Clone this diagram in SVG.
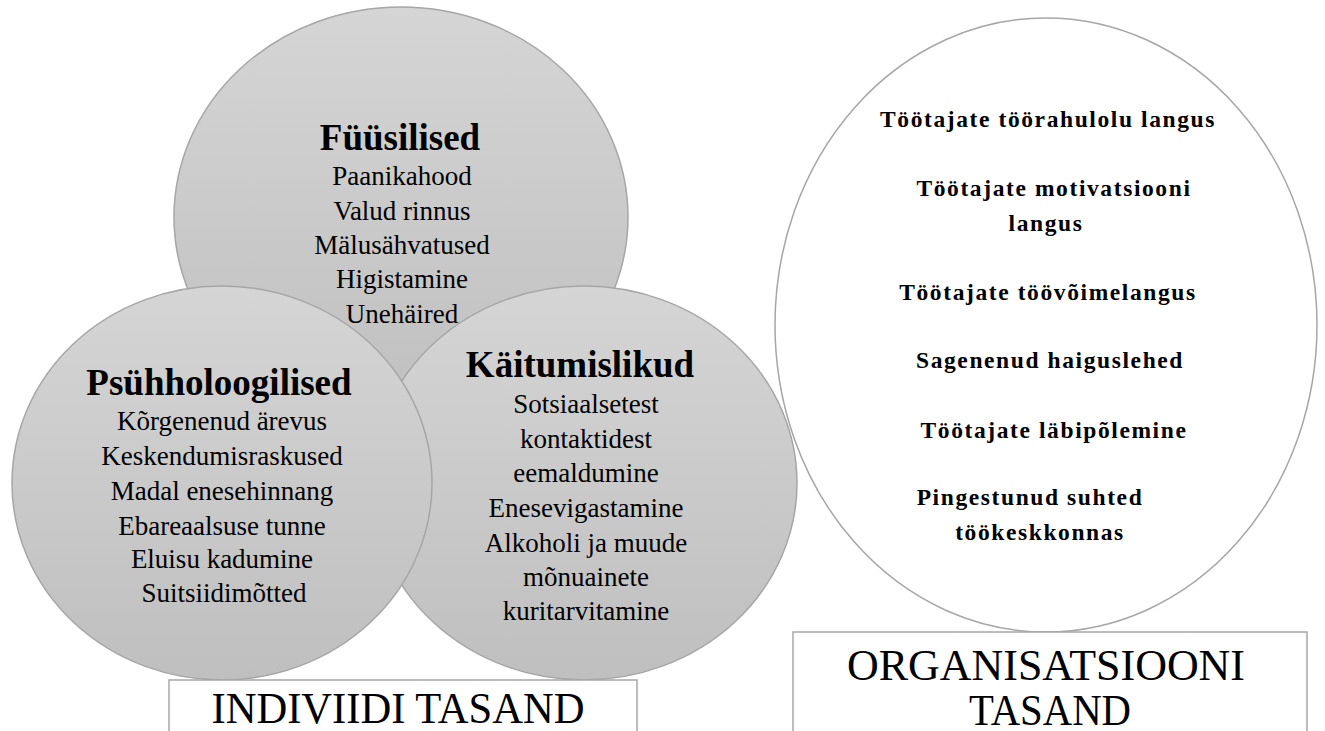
<svg xmlns="http://www.w3.org/2000/svg" width="1325" height="731" viewBox="0 0 1325 731">
<defs>
<linearGradient id="g" x1="0" y1="0" x2="0" y2="1">
<stop offset="0" stop-color="#d5d5d5"/>
<stop offset="1" stop-color="#bfbfbf"/>
</linearGradient>
<style>
.c{fill:url(#g);stroke:#a6a6a6;stroke-width:1.5}
.o{fill:#ffffff;stroke:#a6a6a6;stroke-width:1.5}
.b{fill:#ffffff;stroke:#a6a6a6;stroke-width:1.5}
text{font-family:'Liberation Serif','Times New Roman',serif;fill:#000;text-anchor:middle}
.h{font-size:37px;font-weight:bold}
.i{font-size:27px}
.r{font-size:23.5px;font-weight:bold;letter-spacing:1.6px}
.l{font-size:44px}
</style>
</defs>
<rect width="1325" height="731" fill="#ffffff"/>
<g id="connectors"/>
<g id="node-fyysilised">
<ellipse class="c" cx="401" cy="217" rx="227" ry="210"/>
<text class="h" x="400" y="150">Füüsilised</text>
<text class="i" x="402" y="185">Paanikahood</text>
<text class="i" x="402" y="220">Valud rinnus</text>
<text class="i" x="402" y="254">Mälusähvatused</text>
<text class="i" x="402" y="288">Higistamine</text>
<text class="i" x="402" y="323">Unehäired</text>
</g>
<g id="node-kaitumislikud">
<ellipse class="c" cx="584" cy="483" rx="213" ry="197"/>
<text class="h" x="580" y="377">Käitumislikud</text>
<text class="i" x="586" y="413">Sotsiaalsetest</text>
<text class="i" x="586" y="448">kontaktidest</text>
<text class="i" x="586" y="482">eemaldumine</text>
<text class="i" x="586" y="517">Enesevigastamine</text>
<text class="i" x="586" y="552">Alkoholi ja muude</text>
<text class="i" x="586" y="586">mõnuainete</text>
<text class="i" x="586" y="620">kuritarvitamine</text>
</g>
<g id="node-psyhholoogilised">
<ellipse class="c" cx="222" cy="483" rx="210" ry="197"/>
<text class="h" x="219" y="395">Psühholoogilised</text>
<text class="i" x="222" y="430">Kõrgenenud ärevus</text>
<text class="i" x="222" y="465">Keskendumisraskused</text>
<text class="i" x="222" y="500">Madal enesehinnang</text>
<text class="i" x="222" y="535">Ebareaalsuse tunne</text>
<text class="i" x="222" y="568">Eluisu kadumine</text>
<text class="i" x="224" y="602">Suitsiidimõtted</text>
</g>
<g id="node-organisatsioon">
<ellipse class="o" cx="1046" cy="325" rx="271" ry="307"/>
<text class="r" x="1048" y="127">Töötajate töörahulolu langus</text>
<text class="r" x="1054" y="196">Töötajate motivatsiooni</text>
<text class="r" x="1046" y="231">langus</text>
<text class="r" x="1048" y="300">Töötajate töövõimelangus</text>
<text class="r" x="1050" y="368">Sagenenud haiguslehed</text>
<text class="r" x="1054" y="438">Töötajate läbipõlemine</text>
<text class="r" x="1030" y="505">Pingestunud suhted</text>
<text class="r" x="1040" y="540">töökeskkonnas</text>
</g>
<g id="node-individ-label">
<rect class="b" x="169" y="680" width="468" height="80"/>
<text class="l" x="398" y="723" textLength="373" lengthAdjust="spacingAndGlyphs">INDIVIIDI TASAND</text>
</g>
<g id="node-org-label">
<rect class="b" x="793" y="632" width="514" height="130"/>
<text class="l" x="1046" y="680" textLength="398" lengthAdjust="spacingAndGlyphs">ORGANISATSIOONI</text>
<text class="l" x="1050" y="725" textLength="162" lengthAdjust="spacingAndGlyphs">TASAND</text>
</g>
</svg>
